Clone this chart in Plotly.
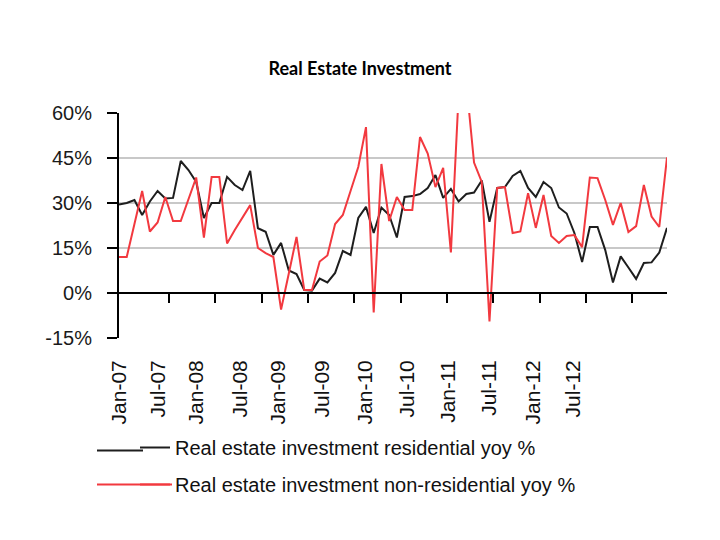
import plotly.graph_objects as go
import pandas as pd

# Monthly categories, Jan-07 .. Dec-12
months = pd.date_range("2007-01-01", periods=72, freq="MS").strftime("%b-%y").tolist()

residential = [
    29.5, 30, 31, 26, 30.5, 34, 31.5, 31.7, 44, 41, 37, 25,
    30, 30, 38.7, 36, 34.3, 40.7, 21.6, 20.4, 12.7, 16.7, 7.5, 6.3,
    1, 0.8, 4.8, 3.5, 6.7, 14, 12.7, 25, 28.7, 20, 28.5, 26,
    18.5, 32, 32.3, 33, 35, 39.3, 31.7, 34.7, 30.5, 33, 33.5, 37.5,
    23.7, 35, 35.3, 39, 40.7, 35, 32, 37, 35, 28.5, 26.5, 20,
    10.3, 22, 22, 14.3, 3.5, 12.2, 8.5, 4.7, 10, 10.2, 13.5, 21.7,
]

non_residential = [
    12, 12, 23, 34, 20.5, 23.5, 32, 24, 24, 31, 38.5, 18.5,
    38.7, 38.7, 16.5, 21, 25, 29.3, 15, 13.3, 12, -5.5, 6.5, 18.7,
    1, 1, 10.5, 12.5, 23, 26, 34, 42, 55.3, -6.5, 43, 24,
    32, 27.7, 27.7, 52, 46.5, 35.3, 41.7, 13.5, 66, 70, 43.5, 37,
    -9.5, 35, 35.3, 20, 20.5, 33.3, 21.7, 32.7, 19, 16.7, 19, 19.3,
    15.3, 38.5, 38.3, 31, 22.7, 30, 20.3, 22.3, 36, 25.5, 22, 45.2,
]

tick_labels = ["Jan-07", "Jul-07", "Jan-08", "Jul-08", "Jan-09", "Jul-09",
               "Jan-10", "Jul-10", "Jan-11", "Jul-11", "Jan-12", "Jul-12"]
# where the labels sit along the axis in the picture (month index)
tick_label_pos = [0, 5.1, 10.0, 15.7, 20.6, 26.3, 31.9, 37.4, 42.6, 48.0, 53.6, 58.8]
# tick marks on the zero line: half-year boundaries
tick_mark_pos = [6.5 + 6 * k for k in range(11)]

y_ticks = [-15, 0, 15, 30, 45, 60]

x = list(range(len(months)))
n = len(months)

black = "#1e1e1e"
red = "#f2393f"

fig = go.Figure()
fig.add_trace(go.Scatter(
    x=x, y=residential, mode="lines", customdata=months,
    name="Real estate investment residential yoy %", legendgroup="a",
    line=dict(color=black, width=2),
    hovertemplate="%{customdata}: %{y:.1f}%<extra></extra>",
))
fig.add_trace(go.Scatter(
    x=x, y=non_residential, mode="lines", customdata=months,
    name="Real estate investment non-residential yoy %", legendgroup="b",
    line=dict(color=red, width=2),
    hovertemplate="%{customdata}: %{y:.1f}%<extra></extra>",
))
# helper (invisible) trace so the zero-line axis is drawn
fig.add_trace(go.Scatter(x=[0, n - 1], y=[None, None], xaxis="x2", showlegend=False,
                         hoverinfo="skip", mode="lines"))

# page is offset by the 8px body margin; plot area lands at x 119..667, y 113..338
L, T, W, H = 119, 113, 548, 225


def px(xp):
    return (xp - L) / W


def py(yp):
    return (T + H - yp) / H


# longer legend keys (extend the short built-in samples to the left)
shapes = [
    dict(type="line", xref="paper", yref="paper", x0=px(97), x1=px(143), y0=py(450.5), y1=py(450.5),
         line=dict(color=black, width=2)),
    dict(type="line", xref="paper", yref="paper", x0=px(97), x1=px(172), y0=py(484.5), y1=py(484.5),
         line=dict(color=red, width=2)),
]

fig.update_layout(
    width=720, height=540,
    margin=dict(l=L - 8, r=720 + 8 - (L + W), t=T - 8, b=540 + 8 - (T + H)),
    paper_bgcolor="white", plot_bgcolor="white",
    title=dict(text="<b>Real Estate Investment</b>", x=(360 - 8) / 720, xanchor="center",
               y=1 - 61 / 540, yref="container", yanchor="middle",
               font=dict(family="Lato", size=18, color="black")),
    xaxis=dict(range=[0, n - 1], tickmode="array", tickvals=tick_label_pos, ticktext=tick_labels,
               tickangle=-90, ticks="", showgrid=False, showline=False, zeroline=False,
               tickfont=dict(family="Liberation Sans, Arial", size=21, color="#111111"),
               ticklabelstandoff=17),
    xaxis2=dict(overlaying="x", range=[0, n - 1], anchor="free", position=0.2, side="bottom",
                showline=True, linecolor="black", linewidth=2,
                ticks="outside", ticklen=9, tickwidth=2, tickcolor="black",
                tickmode="array", tickvals=tick_mark_pos, showticklabels=False,
                showgrid=False, zeroline=False),
    yaxis=dict(range=[-15, 60], tickmode="array", tickvals=y_ticks,
               ticktext=[f"{v}%" for v in y_ticks],
               showgrid=True, gridcolor="#c8c8c8", gridwidth=1.5,
               showline=True, linecolor="black", linewidth=2,
               ticks="outside", ticklen=10, tickwidth=2, tickcolor="black", zeroline=False,
               ticklabelstandoff=11,
               tickfont=dict(family="Liberation Sans, Arial", size=20, color="#1a1a1a")),
    legend=dict(x=px(135), xanchor="left", y=py(428), yanchor="top",
                font=dict(family="Liberation Sans, Arial", size=20, color="#111111"),
                bgcolor="rgba(0,0,0,0)", tracegroupgap=8, traceorder="grouped"),
    shapes=shapes,
    showlegend=True,
)

fig.write_html("out.html")
